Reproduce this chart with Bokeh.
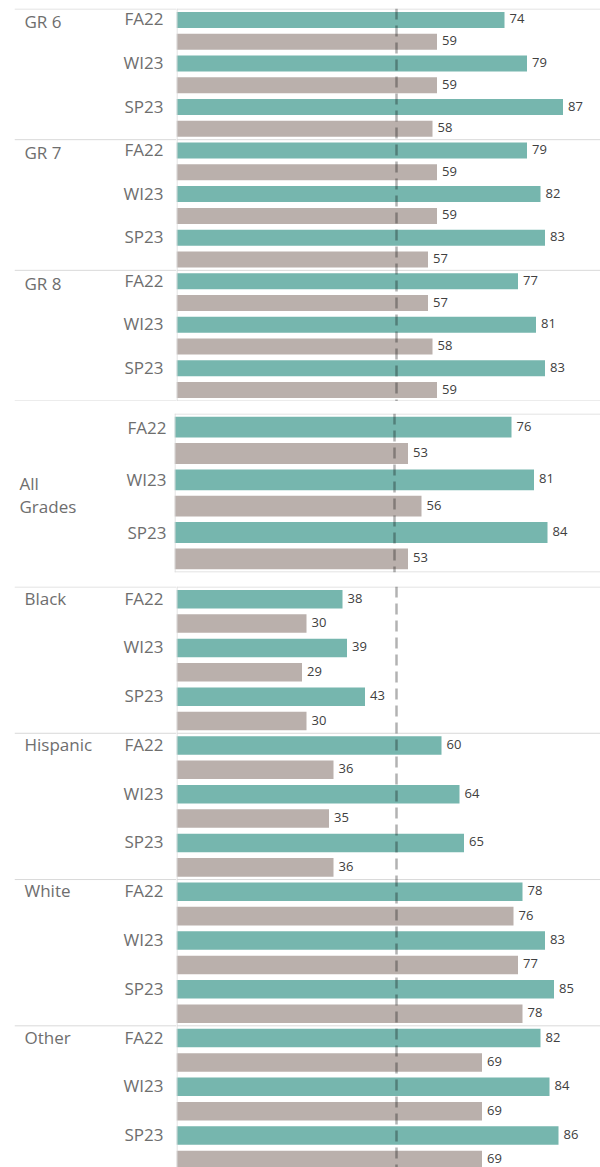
from bokeh.plotting import figure
from bokeh.models import Range1d, Span, ColumnDataSource
from bokeh.layouts import column, row
from bokeh.core.properties import value
from bokeh.embed import file_html
from bokeh.resources import INLINE

# ---------------- data ----------------
PERIODS = ["FA22", "WI23", "SP23"]

GRADE_GROUPS = ["GR 6", "GR 7", "GR 8"]
GRADE_TEAL = [74, 79, 87, 79, 82, 83, 77, 81, 83]
GRADE_TAUPE = [59, 59, 58, 59, 59, 57, 57, 58, 59]

ALL_GROUPS = ["All Grades"]
ALL_TEAL = [76, 81, 84]
ALL_TAUPE = [53, 56, 53]

RACE_GROUPS = ["Black", "Hispanic", "White", "Other"]
RACE_TEAL = [38, 39, 43, 60, 64, 65, 78, 83, 85, 82, 84, 86]
RACE_TAUPE = [30, 29, 30, 36, 35, 36, 76, 77, 78, 69, 69, 69]

TARGET = 50

# ---------------- style ----------------
TEAL = "#76B6AE"
TAUPE = "#BAB0AC"
HEADER_COLOR = "#6E6E6E"
LABEL_COLOR = "#404040"
RULE_COLOR = "#D9D9D9"
FONT = "Open Sans"
PX_PER_UNIT = 4.5
AXIS_START = 5 / PX_PER_UNIT
HEAD_LEFT = 14


def make_panel(groups, teal, taupe, *, head_w, bar_w, height, pad_top, pad_bottom,
               slot_px, bar_frac, group_x, period_right, group_dy, period_dy,
               stacked_group=False, boxed=False):
    n_per = len(PERIODS)
    ys, vals, cols = [], [], []
    per_y, per_txt, grp_y, grp_txt, bounds = [], [], [], [], []
    slot = 0
    for gi, g in enumerate(groups):
        bounds.append(slot)
        first = slot + 0.5
        for pi, per in enumerate(PERIODS):
            k = gi * n_per + pi
            ys += [slot + 0.5, slot + 1.5]
            vals += [teal[k], taupe[k]]
            cols += [TEAL, TAUPE]
            per_y.append(slot + 0.5)
            per_txt.append(per)
            slot += 2
        if stacked_group:
            grp_y.append(slot / 2)
            grp_txt.append(g.replace(" ", "\n"))
        else:
            grp_y.append(first)
            grp_txt.append(g)
    bounds.append(slot)

    frame_h = height - pad_top - pad_bottom
    half = 0.5 / slot_px
    visible = frame_h / slot_px - half
    yr = Range1d(start=visible, end=-half)

    common = dict(height=height, y_range=yr, toolbar_location=None, output_backend="svg",
                  x_axis_location=None, y_axis_location=None, outline_line_color=None,
                  min_border_top=pad_top, min_border_bottom=pad_bottom,
                  min_border_right=0, background_fill_color="white",
                  border_fill_color="white")

    h = figure(width=head_w, x_range=Range1d(HEAD_LEFT, head_w),
               min_border_left=HEAD_LEFT, **common)
    b = figure(width=bar_w, x_range=Range1d(AXIS_START, AXIS_START + bar_w / PX_PER_UNIT),
               min_border_left=0, **common)
    for f in (h, b):
        f.grid.visible = False

    src = ColumnDataSource(dict(y=ys, v=vals, c=cols, t=[str(v) for v in vals]))
    b.hbar(y="y", left=0, right="v", height=bar_frac, fill_color="c", line_color=None,
           source=src)
    b.text(x="v", y="y", text="t", source=src, x_offset=5, y_offset=-1, text_align="left",
           text_baseline="middle", text_font=value(FONT), text_font_size="13px",
           text_color=LABEL_COLOR)

    # rules
    if boxed:
        for yb in (bounds[0], bounds[-1]):
            b.add_layout(Span(location=yb, dimension="width", line_color=RULE_COLOR,
                              line_width=1))
    else:
        for yb in bounds:
            if yb <= visible:
                for f in (h, b):
                    f.add_layout(Span(location=yb, dimension="width",
                                      line_color=RULE_COLOR, line_width=1))
    b.add_layout(Span(location=AXIS_START + 0.5 / PX_PER_UNIT, dimension="height",
                      line_color=RULE_COLOR, line_width=1))

    # target reference line
    b.add_layout(Span(location=TARGET, dimension="height", line_color="black",
                      line_alpha=0.3, line_width=2.5, line_dash="11 6"))

    # headers
    h.text(x=period_right, y=per_y, text=per_txt, text_align="right",
           text_baseline="middle", y_offset=period_dy, text_font=value(FONT),
           text_font_size="17px", text_color=HEADER_COLOR)
    h.text(x=group_x, y=grp_y, text=grp_txt, text_align="left",
           text_baseline="middle", y_offset=group_dy, text_font=value(FONT),
           text_font_size="17px", text_color=HEADER_COLOR, text_line_height=1.0)
    return row(h, b)


top = make_panel(GRADE_GROUPS, GRADE_TEAL, GRADE_TAUPE, head_w=176, bar_w=424, height=401,
                 pad_top=8, pad_bottom=0, slot_px=392 / 18, bar_frac=0.735,
                 group_x=24, period_right=163, group_dy=2, period_dy=-1)
mid = make_panel(ALL_GROUPS, ALL_TEAL, ALL_TAUPE, head_w=174, bar_w=426, height=185,
                 pad_top=12, pad_bottom=14, slot_px=158 / 6, bar_frac=0.79,
                 group_x=19, period_right=166, group_dy=2, period_dy=0,
                 stacked_group=True, boxed=True)
bot = make_panel(RACE_GROUPS, RACE_TEAL, RACE_TAUPE, head_w=176, bar_w=424, height=581,
                 pad_top=0, pad_bottom=0, slot_px=24.38, bar_frac=0.76,
                 group_x=24, period_right=163, group_dy=-1, period_dy=-1)

layout = column(top, mid, bot)
open("out.html", "w").write(file_html(layout, INLINE))
